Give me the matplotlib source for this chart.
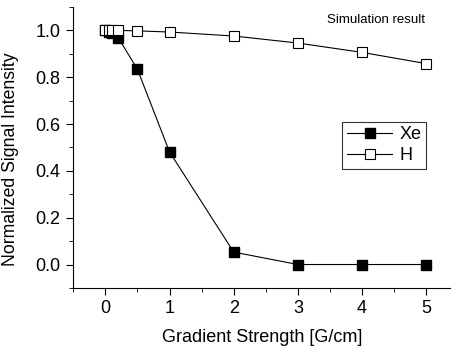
import numpy as np
import matplotlib
matplotlib.use("Agg")
import matplotlib.pyplot as plt
from matplotlib.ticker import MultipleLocator

plt.rcParams['font.family'] = ['Liberation Sans', 'DejaVu Sans']

gradient = [0, 0.05, 0.1, 0.2, 0.5, 1, 2, 3, 4, 5]
xe_signal = [1.0, 0.995, 0.99, 0.969, 0.834, 0.481, 0.053, 0.0, 0.0, 0.0]
h_signal = [1.0, 1.0, 1.0, 1.0, 0.998, 0.993, 0.976, 0.946, 0.906, 0.858]

fig = plt.figure(figsize=(4.52, 3.49), dpi=100)
ax = fig.add_axes([0.162, 0.175, 0.838, 0.805])

ax.plot(gradient, xe_signal, '-s', color='black', lw=0.8,
        ms=7, mfc='black', mec='black', label='Xe')
ax.plot(gradient, h_signal, '-s', color='black', lw=0.8,
        ms=7, mfc='white', mec='black', mew=0.8, label='H')

ax.set_xlim(-0.5, 5.4)
ax.set_ylim(-0.1, 1.1)
ax.xaxis.set_major_locator(MultipleLocator(1))
ax.xaxis.set_minor_locator(MultipleLocator(0.5))
ax.yaxis.set_minor_locator(MultipleLocator(0.1))
ax.set_yticks([0, 0.2, 0.4, 0.6, 0.8, 1.0])
ax.set_yticklabels(['0.0', '0.2', '0.4', '0.6', '0.8', '1.0'])

for s in ['top', 'right']:
    ax.spines[s].set_visible(False)
ax.tick_params(which='both', direction='out', labelsize=13)
ax.tick_params(which='major', length=5, pad=4)
ax.tick_params(which='minor', length=3)

ax.set_xlabel('Gradient Strength [G/cm]', fontsize=13, labelpad=8)
ax.set_ylabel('Normalized Signal Intensity', fontsize=12.7, labelpad=3)
ax.yaxis.set_label_coords(-0.142, 0.46)

ax.text(0.93, 0.955, 'Simulation result', transform=ax.transAxes,
        ha='right', va='center', fontsize=9.5)

leg = ax.legend(loc='upper right', bbox_to_anchor=(0.931, 0.591),
                borderaxespad=0, fontsize=13, frameon=True, fancybox=False,
                edgecolor='black', handlelength=2.5, handletextpad=0.4,
                borderpad=0.25, labelspacing=0.2)
leg.get_frame().set_linewidth(0.8)

fig.savefig('out.png', dpi=100)
